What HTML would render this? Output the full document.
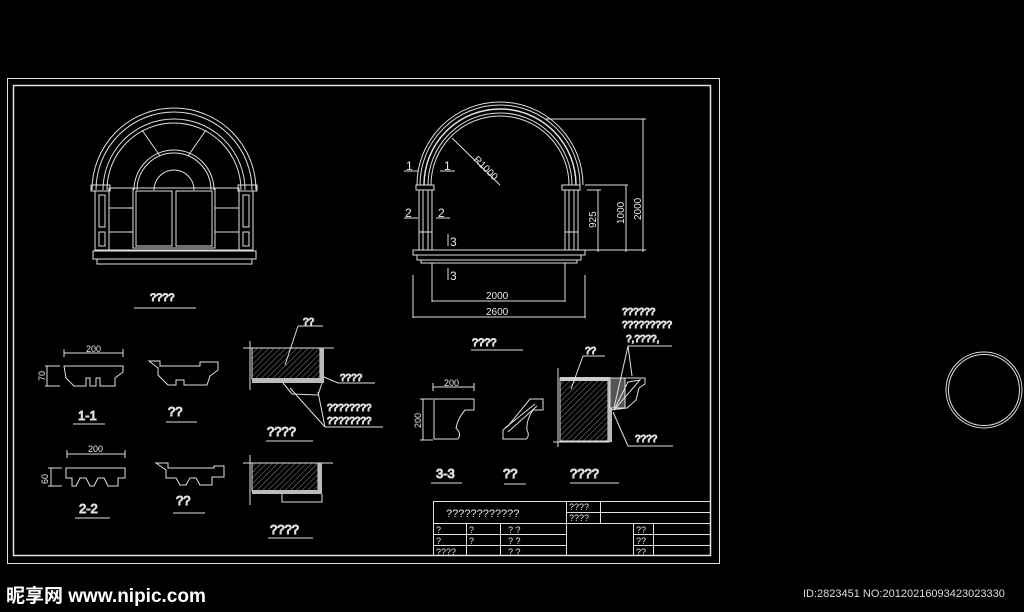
<!DOCTYPE html>
<html><head><meta charset="utf-8"><style>
html,body{margin:0;padding:0;background:#000;width:1024px;height:612px;overflow:hidden}
svg{display:block}
text{font-family:"Liberation Sans",sans-serif;fill:#e8e8e8}
</style></head><body>
<svg width="1024" height="612" viewBox="0 0 1024 612" xmlns="http://www.w3.org/2000/svg">
<defs>
<pattern id="h" width="4" height="4" patternUnits="userSpaceOnUse" patternTransform="rotate(45)">
<line x1="0" y1="0" x2="0" y2="4" stroke="#aaa" stroke-width="0.8"/></pattern>
</defs>
<g fill="none" stroke="#e0e0e0" stroke-width="1">
<rect x="7.5" y="78.5" width="712" height="485"/>
<rect x="13.5" y="85.5" width="697" height="470" stroke-width="1.5"/>
<circle cx="984" cy="390" r="38"/><circle cx="984" cy="390" r="35.5"/>

<!-- left window -->
<path d="M92,190 A82,82 0 0 1 256,190"/>
<path d="M96,190 A78,78 0 0 1 252,190"/>
<path d="M103,190 A71,71 0 0 1 245,190"/>
<path d="M107,190 A67,67 0 0 1 241,190"/>
<path d="M134,190 A40,40 0 0 1 214,190"/>
<path d="M137,190 A37,37 0 0 1 211,190"/>
<path d="M154,190 A20,20 0 0 1 194,190"/>
<line x1="142" y1="130" x2="160" y2="156"/><line x1="206" y1="130" x2="188" y2="156"/>
<rect x="91" y="185" width="19" height="6"/><rect x="238" y="185" width="19" height="6"/>
<rect x="95" y="191" width="14" height="59"/><rect x="239" y="191" width="14" height="59"/>
<rect x="99" y="195" width="6" height="32"/><rect x="99" y="232" width="6" height="14"/>
<rect x="243" y="195" width="6" height="32"/><rect x="243" y="232" width="6" height="14"/>
<rect x="109" y="188" width="130" height="62"/>
<rect x="133" y="188" width="82" height="60"/><rect x="136" y="191" width="36" height="55"/><rect x="176" y="191" width="36" height="55"/>
<line x1="109" y1="208" x2="133" y2="208"/><line x1="109" y1="232" x2="133" y2="232"/>
<line x1="215" y1="208" x2="239" y2="208"/><line x1="215" y1="232" x2="239" y2="232"/>
<rect x="93" y="251" width="163" height="8"/><rect x="97" y="259" width="155" height="5"/>
<text x="150" y="301" font-size="11">????</text><line x1="134" y1="308" x2="196" y2="308"/>

<!-- right arch -->
<path d="M417,185 A83,83 0 0 1 583,185"/>
<path d="M420,185 A80,80 0 0 1 580,185"/>
<path d="M424,185 A76,76 0 0 1 576,185" stroke-width="1.5"/>
<path d="M428,185 A72,72 0 0 1 572,185"/>
<path d="M431,185 A69,69 0 0 1 569,185"/>
<rect x="416" y="185" width="18" height="5"/><rect x="562" y="185" width="18" height="5"/>
<rect x="419" y="190" width="13" height="60"/><rect x="565" y="190" width="13" height="60"/>
<line x1="423" y1="190" x2="423" y2="250"/><line x1="428" y1="190" x2="428" y2="250"/>
<line x1="569" y1="190" x2="569" y2="250"/><line x1="574" y1="190" x2="574" y2="250"/>
<line x1="419" y1="232" x2="432" y2="232"/><line x1="565" y1="232" x2="578" y2="232"/>
<rect x="413" y="250" width="172" height="5"/><rect x="417" y="255" width="164" height="5"/><rect x="421" y="260" width="156" height="3"/>
<line x1="452" y1="138" x2="500" y2="185"/>
<line x1="545" y1="119" x2="646" y2="119"/><line x1="643" y1="119" x2="643" y2="252"/>
<line x1="585" y1="185" x2="628" y2="185"/><line x1="626" y1="185" x2="626" y2="252"/>
<line x1="587" y1="190" x2="601" y2="190"/><line x1="598" y1="190" x2="598" y2="252"/>
<line x1="585" y1="250" x2="646" y2="250"/>
<line x1="432" y1="263" x2="432" y2="302"/><line x1="565" y1="263" x2="565" y2="302"/><line x1="432" y1="301" x2="565" y2="301"/>
<line x1="413" y1="275" x2="413" y2="318"/><line x1="585" y1="275" x2="585" y2="318"/><line x1="413" y1="317" x2="585" y2="317"/>
<line x1="404" y1="171" x2="418" y2="171"/><line x1="440" y1="171" x2="455" y2="171"/>
<line x1="404" y1="218" x2="418" y2="218"/><line x1="436" y1="218" x2="450" y2="218"/>
<line x1="448" y1="234" x2="448" y2="246"/><line x1="448" y1="268" x2="448" y2="280"/>
<text x="472" y="346" font-size="11">????</text><line x1="471" y1="350" x2="523" y2="350"/>

<!-- 1-1 -->
<line x1="64" y1="353" x2="123" y2="353"/><line x1="64" y1="349" x2="64" y2="357"/><line x1="123" y1="349" x2="123" y2="357"/>
<line x1="47" y1="366" x2="47" y2="386"/><line x1="45" y1="366" x2="60" y2="366"/><line x1="45" y1="386" x2="60" y2="386"/>
<path d="M64,366 L123,366 L123,372 L115,378 L115,386 L100,386 L100,378 L96,378 L96,386 L90,386 L90,378 L86,378 L86,386 L74,386 L66,378 Z"/>
<text x="78" y="420" font-size="13">1-1</text><line x1="73" y1="424" x2="105" y2="424"/>
<path d="M149,361 L160,361 L160,366 L200,366 L200,362 L218,362 L218,370 L210,376 L207,385 L184,385 L184,380 L176,380 L176,385 L168,385 L158,375 L158,368 Z"/>
<text x="168" y="416" font-size="13">??</text><line x1="166" y1="422" x2="197" y2="422"/>
<!-- 2-2 -->
<line x1="67" y1="454" x2="125" y2="454"/><line x1="67" y1="450" x2="67" y2="458"/><line x1="125" y1="450" x2="125" y2="458"/>
<line x1="51" y1="468" x2="51" y2="486"/><line x1="48" y1="468" x2="62" y2="468"/><line x1="48" y1="486" x2="62" y2="486"/>
<path d="M66,468 L125,468 L125,478 L118,478 L118,486 L108,486 L104,478 L98,478 L94,486 L90,486 L86,478 L80,478 L76,486 L72,486 L72,478 L66,478 Z"/>
<text x="79" y="513" font-size="13">2-2</text><line x1="75" y1="518" x2="110" y2="518"/>
<path d="M156,463 L168,463 L168,468 L214,468 L214,466 L224,466 L224,477 L212,477 L212,485 L200,485 L196,478 L190,478 L186,485 L180,485 L176,478 L168,478 L166,478 L166,470 Z"/>
<text x="176" y="505" font-size="13">??</text><line x1="173" y1="513" x2="205" y2="513"/>

<!-- section 1 -->
<line x1="243" y1="348" x2="334" y2="348"/><line x1="250" y1="341" x2="250" y2="390"/>
<rect x="252" y="348" width="68" height="31" fill="url(#h)"/>
<rect x="252" y="378" width="68" height="5" fill="#bbb" stroke="none"/>
<rect x="320" y="348" width="4" height="35" fill="#bbb" stroke="none"/>
<path d="M283,383 L292,394 L318,395 L322,383"/>
<line x1="285" y1="365" x2="298" y2="326"/><line x1="298" y1="326" x2="323" y2="326"/>
<line x1="324" y1="377" x2="338" y2="383"/><line x1="338" y1="383" x2="375" y2="383"/>
<line x1="290" y1="388" x2="325" y2="427"/><line x1="318" y1="392" x2="325" y2="427"/><line x1="325" y1="427" x2="383" y2="427"/>
<text x="303" y="325" font-size="10">??</text>
<text x="340" y="381" font-size="10">????</text>
<text x="327" y="411" font-size="10">????????</text><text x="327" y="424" font-size="10">????????</text>
<text x="267" y="436" font-size="13">????</text><line x1="266" y1="441" x2="313" y2="441"/>
<!-- section 2 -->
<line x1="243" y1="463" x2="333" y2="463"/><line x1="250" y1="455" x2="250" y2="505"/>
<rect x="252" y="463" width="66" height="28" fill="url(#h)"/>
<rect x="252" y="490" width="68" height="4" fill="#bbb" stroke="none"/>
<rect x="318" y="463" width="4" height="31" fill="#bbb" stroke="none"/>
<path d="M282,494 L282,502 L322,502 L322,494"/>
<text x="270" y="534" font-size="13">????</text><line x1="268" y1="538" x2="313" y2="538"/>

<!-- 3-3 -->
<line x1="433" y1="387" x2="474" y2="387"/><line x1="433" y1="383" x2="433" y2="391"/><line x1="474" y1="383" x2="474" y2="391"/>
<line x1="423" y1="399" x2="423" y2="440"/><line x1="420" y1="399" x2="433" y2="399"/><line x1="420" y1="440" x2="433" y2="440"/>
<path d="M434,399 L474,399 L474,410 L465,410 Q458,418 456,428 Q462,434 458,439 L434,439 Z"/>
<text x="436" y="478" font-size="13">3-3</text><line x1="431" y1="483" x2="462" y2="483"/>
<path d="M530,399 L543,399 L543,410 L533,410 Q526,420 527,430 Q530,436 526,439 L503,439 L503,430 L508,426 Z"/>
<line x1="505" y1="428" x2="535" y2="404"/><line x1="508" y1="432" x2="537" y2="406"/>
<text x="503" y="478" font-size="13">??</text><line x1="504" y1="484" x2="526" y2="484"/>
<!-- section 3 -->
<line x1="558" y1="368" x2="558" y2="447"/><line x1="553" y1="442" x2="610" y2="442"/>
<rect x="560" y="378" width="48" height="63" fill="url(#h)"/>
<rect x="560" y="377" width="50" height="4" fill="#ccc" stroke="none"/>
<rect x="608" y="378" width="4" height="64" fill="#bbb" stroke="none"/>
<rect x="610" y="378" width="15" height="30" fill="#555"/>
<path d="M625,378 L645,378 L645,384 L639,388 L636,400 L627,408 L610,410"/>
<line x1="610" y1="378" x2="645" y2="378"/>
<path d="M614,410 L640,380 L628,382 Z"/>
<line x1="571" y1="389" x2="583" y2="356"/><line x1="583" y1="356" x2="605" y2="356"/>
<line x1="613" y1="412" x2="628" y2="446"/><line x1="628" y1="446" x2="673" y2="446"/>
<line x1="628" y1="346" x2="614" y2="408"/><line x1="628" y1="346" x2="632" y2="376"/><line x1="628" y1="346" x2="672" y2="346"/>
<text x="585" y="354" font-size="10">??</text>
<text x="635" y="442" font-size="10">????</text>
<text x="622" y="315" font-size="10">??????</text><text x="622" y="328" font-size="10">?????????</text><text x="626" y="342" font-size="10">?,????,</text>
<text x="570" y="478" font-size="13">????</text><line x1="570" y1="483" x2="619" y2="483"/>

<!-- title block -->
<rect x="433.5" y="501.5" width="277" height="54"/>
<line x1="433" y1="523.5" x2="710" y2="523.5"/>
<line x1="433" y1="534.5" x2="567" y2="534.5"/><line x1="433" y1="545.5" x2="567" y2="545.5"/>
<line x1="633" y1="534.5" x2="710" y2="534.5"/><line x1="633" y1="545.5" x2="710" y2="545.5"/>
<line x1="567" y1="512.5" x2="710" y2="512.5"/>
<line x1="566.5" y1="501" x2="566.5" y2="556"/><line x1="600.5" y1="501" x2="600.5" y2="523"/>
<line x1="466.5" y1="523" x2="466.5" y2="556"/><line x1="500.5" y1="523" x2="500.5" y2="556"/>
<line x1="633.5" y1="523" x2="633.5" y2="556"/><line x1="653.5" y1="523" x2="653.5" y2="556"/>
</g>
<g font-size="10">
<text x="446" y="517" font-size="11">????????????</text>
<text x="569" y="510" font-size="9">????</text><text x="569" y="521" font-size="9">????</text>
<text x="436" y="533" font-size="9">?</text><text x="469" y="533" font-size="9">?</text><text x="508" y="533" font-size="9">?   ?</text>
<text x="436" y="544" font-size="9">?</text><text x="469" y="544" font-size="9">?</text><text x="508" y="544" font-size="9">?   ?</text>
<text x="436" y="555" font-size="9">????</text><text x="508" y="555" font-size="9">?   ?</text>
<text x="636" y="533" font-size="9">??</text><text x="636" y="544" font-size="9">??</text><text x="636" y="555" font-size="9">??</text>
<text x="86" y="352" font-size="9">200</text><text x="88" y="452" font-size="9">200</text>
<text x="444" y="386" font-size="9">200</text>
<text x="45" y="381" font-size="9" transform="rotate(-90 45 381)">70</text>
<text x="48" y="484" font-size="9" transform="rotate(-90 48 484)">60</text>
<text x="421" y="428" font-size="9" transform="rotate(-90 421 428)">200</text>
<text x="486" y="299" font-size="10">2000</text><text x="486" y="315" font-size="10">2600</text>
<text x="596" y="228" font-size="10" transform="rotate(-90 596 228)">925</text>
<text x="624" y="224" font-size="10" transform="rotate(-90 624 224)">1000</text>
<text x="641" y="220" font-size="10" transform="rotate(-90 641 220)">2000</text>
<text x="473" y="160" font-size="10" transform="rotate(45 473 160)">R1000</text>
<text x="406" y="170" font-size="12">1</text><text x="444" y="170" font-size="12">1</text>
<text x="405" y="217" font-size="12">2</text><text x="438" y="217" font-size="12">2</text>
<text x="450" y="246" font-size="12">3</text><text x="450" y="280" font-size="12">3</text>
</g>
<text x="6" y="602" font-size="19" font-weight="bold" style="font-family:'Liberation Sans','Noto Sans CJK SC',sans-serif;fill:#fff">昵享网 www.nipic.com</text>
<text x="803" y="597" font-size="11" style="fill:#ddd">ID:2823451 NO:20120216093423023330</text>
</svg>
</body></html>
